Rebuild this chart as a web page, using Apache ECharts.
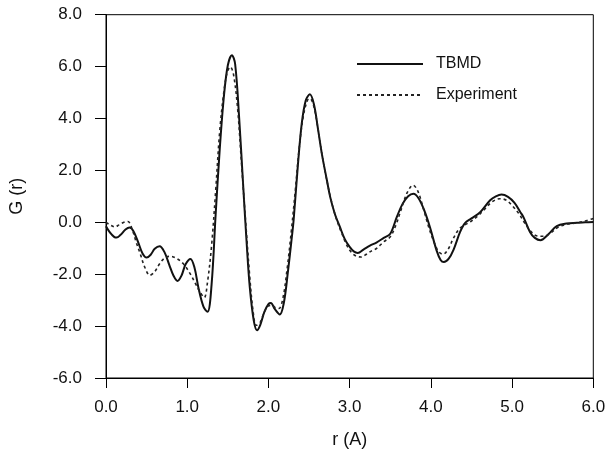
<!DOCTYPE html>
<html>
<head>
<meta charset="utf-8">
<script src="https://cdn.jsdelivr.net/npm/echarts@6/dist/echarts.min.js"></script>
<style>html,body{margin:0;padding:0;background:#fff;}#c{width:615px;height:455px;}</style>
</head>
<body>
<div id="c"></div>
<script>
var xTicks = [0, 1, 2, 3, 4, 5, 6];
var yTicks = [-6, -4, -2, 0, 2, 4, 6, 8];

var tbmdR = [0.00,0.05,0.10,0.13,0.18,0.24,0.29,0.34,0.40,0.45,0.50,0.55,0.60,0.66,0.72,0.78,0.83,0.88,0.93,0.98,1.04,1.09,1.14,1.20,1.25,1.30,1.35,1.40,1.45,1.50,1.55,1.59,1.64,1.69,1.73,1.77,1.82,1.86,1.90,1.95,2.00,2.03,2.08,2.14,2.19,2.24,2.28,2.31,2.36,2.41,2.46,2.51,2.56,2.61,2.66,2.72,2.76,2.82,2.88,2.94,3.00,3.05,3.10,3.17,3.25,3.33,3.42,3.50,3.58,3.65,3.72,3.785,3.85,3.92,3.99,4.07,4.12,4.16,4.22,4.28,4.36,4.42,4.50,4.61,4.73,4.80,4.87,4.95,5.03,5.10,5.14,5.22,5.28,5.35,5.45,5.55,5.67,5.80,5.90,6.00];
var tbmdG = [-0.15,-0.40,-0.56,-0.59,-0.48,-0.28,-0.20,-0.35,-0.80,-1.20,-1.36,-1.25,-1.02,-0.92,-1.15,-1.65,-2.05,-2.26,-2.05,-1.62,-1.41,-1.75,-2.55,-3.25,-3.45,-2.40,0.30,2.80,4.80,6.05,6.44,6.10,4.00,1.36,-0.70,-2.49,-3.80,-4.16,-3.95,-3.45,-3.15,-3.11,-3.35,-3.55,-3.10,-1.90,-0.80,0.08,2.10,3.80,4.70,4.93,4.55,3.60,2.60,1.62,0.98,0.30,-0.18,-0.65,-0.95,-1.12,-1.18,-1.05,-0.90,-0.78,-0.60,-0.44,0.20,0.70,1.00,1.10,0.92,0.45,-0.20,-1.08,-1.45,-1.53,-1.40,-1.05,-0.37,-0.03,0.15,0.40,0.85,1.00,1.07,0.98,0.75,0.40,0.20,-0.37,-0.60,-0.69,-0.45,-0.15,-0.05,-0.02,0.00,0.01];

var expR = [0.00,0.05,0.11,0.16,0.22,0.27,0.32,0.37,0.42,0.48,0.54,0.60,0.66,0.72,0.79,0.86,0.95,1.03,1.10,1.16,1.21,1.25,1.30,1.35,1.40,1.45,1.49,1.53,1.57,1.62,1.67,1.72,1.77,1.81,1.85,1.90,1.95,2.00,2.04,2.09,2.13,2.18,2.23,2.28,2.33,2.38,2.43,2.48,2.51,2.56,2.61,2.66,2.72,2.78,2.84,2.90,2.96,3.02,3.08,3.14,3.21,3.28,3.33,3.42,3.50,3.57,3.64,3.71,3.78,3.84,3.91,3.98,4.05,4.10,4.15,4.21,4.28,4.35,4.42,4.50,4.58,4.66,4.75,4.85,4.93,5.00,5.08,5.15,5.23,5.30,5.39,5.48,5.56,5.67,5.80,5.90,6.00];
var expG = [0.00,-0.10,-0.18,-0.10,0.00,0.03,-0.25,-0.75,-1.20,-1.75,-2.04,-1.90,-1.60,-1.38,-1.31,-1.38,-1.59,-1.95,-2.35,-2.70,-2.90,-2.30,-0.90,1.20,3.50,5.00,5.75,5.99,5.70,4.40,2.20,0.00,-2.10,-3.40,-3.97,-3.85,-3.45,-3.22,-3.20,-3.30,-3.32,-2.90,-1.80,-0.40,1.20,2.90,4.10,4.70,4.77,4.45,3.60,2.60,1.60,0.75,0.10,-0.40,-0.85,-1.15,-1.30,-1.34,-1.22,-1.08,-1.01,-0.75,-0.56,-0.10,0.55,1.15,1.43,1.20,0.50,-0.25,-0.85,-1.15,-1.23,-1.05,-0.60,-0.25,-0.10,0.05,0.25,0.50,0.78,0.91,0.85,0.65,0.35,0.00,-0.35,-0.52,-0.54,-0.40,-0.20,-0.08,-0.02,0.05,0.15];

function pairs(r, g) { return r.map(function (v, i) { return [v, g[i]]; }); }

var font = "'Liberation Sans', Arial, sans-serif";
var chart = echarts.init(document.getElementById('c'), null, { renderer: 'canvas' });
chart.setOption({
  animation: false,
  backgroundColor: '#fff',
  grid: { left: 106, right: 21.7, top: 14.7, bottom: 77, show: true, borderColor: '#000', borderWidth: 1, backgroundColor: 'transparent' },
  legend: {
    orient: 'vertical', left: 356, top: 56, padding: 0, itemWidth: 66, itemHeight: 14, itemGap: 15,
    itemStyle: { opacity: 0 },
    textStyle: { fontFamily: font, fontSize: 16, color: '#111', padding: [0, 0, 0, 8] },
    data: ['TBMD', 'Experiment']
  },
  xAxis: {
    type: 'value', min: xTicks[0], max: xTicks[xTicks.length - 1], interval: 1,
    name: 'r (A)', nameLocation: 'middle', nameGap: 53,
    nameTextStyle: { fontFamily: font, fontSize: 18, color: '#111' },
    axisLine: { show: true, onZero: false, lineStyle: { color: '#000', width: 1 } },
    axisTick: { show: true, inside: false, length: 10, lineStyle: { color: '#000' } },
    axisLabel: { fontFamily: font, fontSize: 17, color: '#111', margin: 21, formatter: function (v) { return v.toFixed(1); } },
    splitLine: { show: false }
  },
  yAxis: {
    type: 'value', min: yTicks[0], max: yTicks[yTicks.length - 1], interval: 2,
    name: 'G (r)', nameLocation: 'middle', nameGap: 80,
    nameTextStyle: { fontFamily: font, fontSize: 18, color: '#111' },
    axisLine: { show: true, onZero: false, lineStyle: { color: '#000', width: 1 } },
    axisTick: { show: true, inside: false, length: 11, lineStyle: { color: '#000' } },
    axisLabel: { fontFamily: font, fontSize: 17, color: '#111', margin: 24, formatter: function (v) { return v.toFixed(1); } },
    splitLine: { show: false }
  },
  series: [
    {
      name: 'TBMD', type: 'line', data: pairs(tbmdR, tbmdG), smooth: 0.35, symbol: 'none',
      lineStyle: { color: '#111', width: 2 }, itemStyle: { color: '#111' }
    },
    {
      name: 'Experiment', type: 'line', data: pairs(expR, expG), smooth: 0.35, symbol: 'none',
      lineStyle: { color: '#222', width: 1.6, type: [3, 3] }, itemStyle: { color: '#222' }
    }
  ]
});
</script>
</body>
</html>
